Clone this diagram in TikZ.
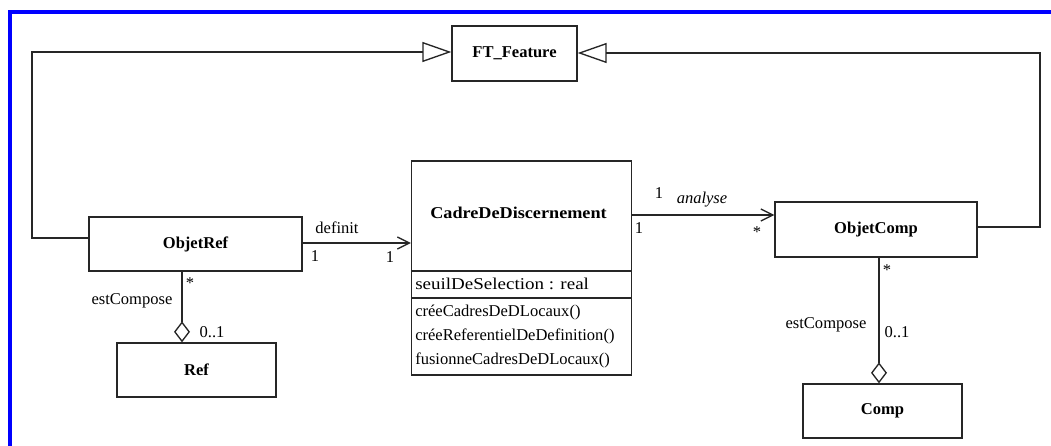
\documentclass[tikz,border=0pt]{standalone}
\usepackage{fontspec}
\setmainfont{Liberation Serif}
\usetikzlibrary{arrows.meta}
\begin{document}
\begin{tikzpicture}[x=0.75pt,y=-0.75pt,
 box/.style={draw=black!85, line width=1pt, inner sep=0pt, font=\fontsize{12.4}{14}\selectfont\bfseries},
 ttl/.style={inner sep=0pt, font=\fontsize{12.4}{14}\selectfont\bfseries},
 lbl/.style={inner sep=0pt, font=\fontsize{12.4}{14}\selectfont},
 conn/.style={draw=black!85, line width=1pt},
 gen/.style={conn, -{Triangle[open, length=21.75pt, width=15pt, line width=1pt]}},
 nav/.style={conn, -{Straight Barb[length=9pt, width=9pt, line width=1pt]}},
 agg/.style={conn, -{Diamond[open, length=15.75pt, width=12pt, line width=1pt]}}]
\useasboundingbox (0,0) rectangle (1051,446);
\fill[white] (0,0) rectangle (1051,446);
\draw[blue, line width=3pt] (10,446) -- (10,12) -- (1051,12);

% classes
\node[box, minimum width=93.75pt, minimum height=41.25pt] (ft) at (514.5,53.5) {FT\_Feature};
\node[box, minimum width=159.75pt, minimum height=40.5pt] (objetref) at (195.5,244) {ObjetRef};
\node[box, minimum width=119.25pt, minimum height=40.5pt] (ref) at (196.5,370) {Ref};
\node[box, minimum width=165pt, minimum height=160.5pt] (cadre) at (521.5,268) {};
\node[box, minimum width=151.5pt, minimum height=41.25pt] (objetcomp) at (876,229.5) {ObjetComp};
\node[box, minimum width=119.25pt, minimum height=40.5pt] (comp) at (882.5,411) {Comp};

% Cadre compartments
\node[ttl] (cadret) at (518.5,213) {\scalebox{1.1}[1]{CadreDeDiscernement}};
\coordinate (d1) at (0,271);
\coordinate (d2) at (0,298);
\draw[conn] (cadre.west |- d1) -- (cadre.east |- d1);
\draw[conn] (cadre.west |- d2) -- (cadre.east |- d2);
\node[lbl, anchor=west] (attr) at (415,284) {\scalebox{1.15}[1]{seuilDeSelection : real}};
\node[lbl, anchor=west] (m1) at (415,313) {créeCadresDeDLocaux()};
\node[lbl, anchor=west] (m2) at (415,336) {créeReferentielDeDefinition()};
\node[lbl, anchor=west] (m3) at (415,360) {fusionneCadresDeDLocaux()};

% generalizations
\coordinate (lc1) at (32,238);
\coordinate (lc2) at (32,52);
\draw[gen] (objetref.west |- lc1) -- (lc1) -- (lc2) -- (ft.west |- lc2);
\coordinate (rc1) at (1040,227);
\coordinate (rc2) at (1040,53);
\draw[gen] (objetcomp.east |- rc1) -- (rc1) -- (rc2) -- (ft.east |- rc2);

% associations
\coordinate (dy) at (0,243);
\draw[nav] (objetref.east |- dy) -- (cadre.west |- dy);
\coordinate (ay) at (0,215);
\draw[nav] (cadre.east |- ay) -- (objetcomp.west |- ay);

% aggregations
\coordinate (ax1) at (182,0);
\draw[agg] (objetref.south -| ax1) -- (ref.north -| ax1);
\coordinate (ax2) at (879,0);
\draw[agg] (objetcomp.south -| ax2) -- (comp.north -| ax2);

% labels
\node[lbl] (ldef) at (337,228) {definit};
\node[lbl] (ld1) at (315,256) {1};
\node[lbl] (ld2) at (390,257) {1};
\node[lbl] (la1) at (659,193) {1};
\node[lbl, font=\fontsize{12.4}{14}\selectfont\itshape] (lan) at (702,200) {analyse};
\node[lbl] (la2) at (639,228) {1};
\node[lbl] (la3) at (757,232) {*};
\node[lbl] (lr1) at (190,283) {*};
\node[lbl] (lr2) at (132,301) {estCompose};
\node[lbl] (lr3) at (212,332) {0..1};
\node[lbl] (lc3) at (887,270) {*};
\node[lbl] (lc4) at (826,325) {estCompose};
\node[lbl] (lc5) at (897,332) {0..1};
\end{tikzpicture}
\end{document}
